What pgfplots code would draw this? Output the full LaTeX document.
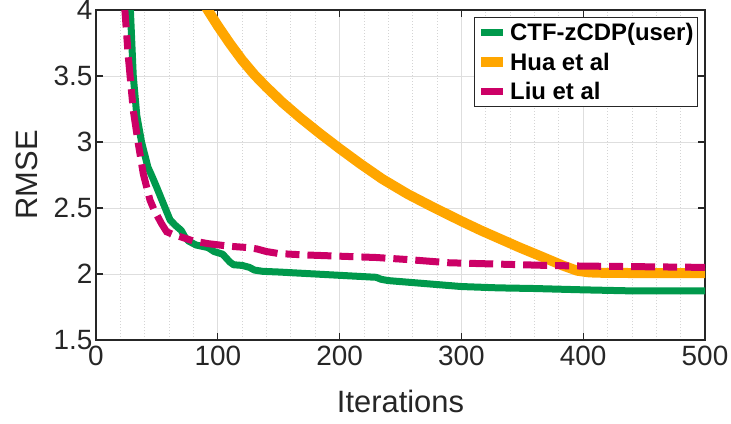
\documentclass[border=0pt]{standalone}
\usepackage{pgfplots}
\pgfplotsset{compat=1.18}
\usepackage{fontspec}
\setmainfont{Liberation Sans}
\usetikzlibrary{calc}
\definecolor{ctfgreen}{RGB}{0,153,76}
\definecolor{huaorange}{RGB}{255,166,0}
\definecolor{liumagenta}{RGB}{204,0,102}
\definecolor{axgray}{RGB}{38,38,38}

\begin{document}
\begin{tikzpicture}
\begin{axis}[
  name=ax,
  scale only axis, width=609bp, height=330bp,
  xmin=0, xmax=500, ymin=1.5, ymax=4,
  xtick={0,100,...,500}, ytick={1.5,2,2.5,3,3.5,4},
  minor x tick num=4,
  xmajorgrids, ymajorgrids, xminorgrids,
  major grid style={line width=0.9bp, color=black!13},
  minor grid style={line width=0.8bp, color=black!17, dash pattern=on 1bp off 2bp},
  tick align=inside, major tick length=7bp, minor tick length=0pt,
  axis line style={axgray, line width=1.1bp},
  every tick/.style={axgray, line width=1.1bp},
  /pgf/number format/assume math mode=true,
  ticklabel style={font=\fontsize{28}{32}\selectfont, text=axgray},
  xticklabel style={yshift=-2.5bp},
  xlabel={Iterations}, ylabel={RMSE},
  xlabel style={at={(axis description cs:0.5,-0.185)}, anchor=center,
    font=\fontsize{31}{36}\selectfont, text=axgray},
  ylabel style={at={(axis description cs:-0.113,0.5)}, anchor=center, rotate=0,
    font=\fontsize{31}{36}\selectfont, text=axgray},
  legend cell align=left,
  legend style={at={(1,1)}, anchor=north east, xshift=-7bp, yshift=-7bp,
    font=\bfseries\fontsize{24}{27}\selectfont, draw=axgray, line width=1bp,
    inner xsep=2bp, inner ysep=4bp, row sep=6.5bp,
    /tikz/every even column/.append style={column sep=2bp}},
  legend image code/.code={\draw[#1] (0bp,0bp) -- (22bp,0bp);},
]
% CTF-zCDP (user-level)
\addplot[ctfgreen, line width=7bp, line join=round] coordinates {
 (28,4.05) (30.6,3.5) (33.5,3.2) (37.4,3.0) (42.6,2.81) (46,2.74)
 (49.7,2.66) (55,2.54) (60.8,2.41) (65,2.37) (70,2.33) (73,2.28)
 (76,2.25) (82,2.22) (92,2.20) (97,2.17) (104,2.15) (110,2.09)
 (113,2.07) (120,2.065) (126,2.05) (130,2.03) (137,2.02) (150,2.015)
 (170,2.005) (200,1.99) (220,1.98) (230,1.975) (234,1.96) (240,1.95)
 (260,1.935) (280,1.92) (300,1.905) (330,1.895) (360,1.89) (400,1.88)
 (440,1.872) (470,1.872) (500,1.872)};
\addlegendentry{CTF-zCDP(user)}
% Hua et al
\addplot[huaorange, line width=10bp, line join=round] coordinates {
 (89,4.04) (100,3.88) (110,3.745) (120,3.62) (130,3.51) (140,3.415)
 (153,3.30) (167.5,3.185) (183,3.07) (200,2.95) (217,2.835) (235,2.72)
 (256,2.605) (277,2.505) (300,2.40) (316,2.33) (332,2.265) (348,2.20)
 (365,2.135) (383,2.065) (395,2.025) (405,2.012) (420,2.008)
 (460,2.007) (500,2.007)};
\addlegendentry{Hua et al}
% Liu et al
\addplot[liumagenta, line width=7bp, dash pattern=on 24bp off 8bp on 14bp off 8bp] coordinates {
 (23.3,4.05) (26.5,3.65) (30.6,3.24) (34.7,2.99) (38.8,2.76) (44.3,2.56)
 (48,2.48) (53.9,2.38) (58,2.32) (63,2.30) (70,2.28) (80,2.25) (92,2.23)
 (110,2.21) (125,2.20) (132,2.19) (140,2.17) (150,2.155) (170,2.145)
 (200,2.135) (230,2.125) (255,2.11) (290,2.085) (330,2.075) (370,2.065)
 (400,2.06) (450,2.055) (500,2.05)};
\addlegendentry{Liu et al}
\end{axis}
\pgfresetboundingbox
\path[use as bounding box] ($(ax.south west)+(-96bp,-84bp)$) rectangle ($(ax.north east)+(26bp,10bp)$);
\end{tikzpicture}
\end{document}
